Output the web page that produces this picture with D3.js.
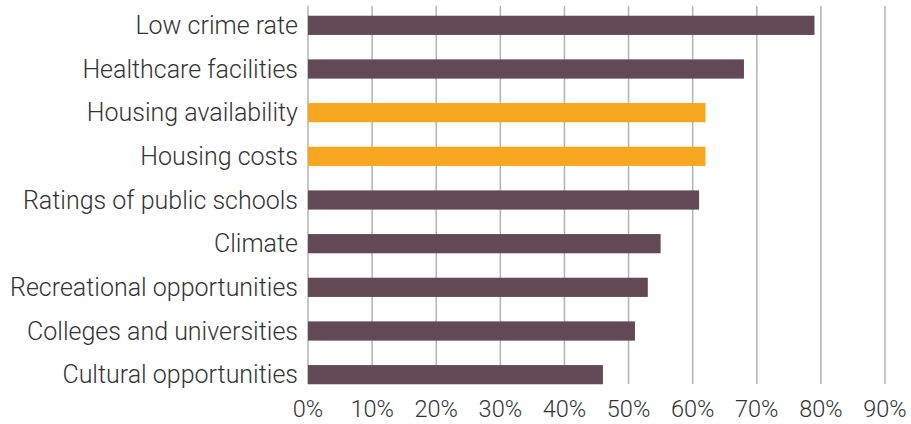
<!DOCTYPE html>
<html><head><meta charset="utf-8">
<script src="https://cdn.jsdelivr.net/npm/d3@7"></script>
<style>
html,body{margin:0;padding:0;background:#fff;}
svg text{font-family:Roboto, "Open Sans", sans-serif;fill:#333;font-weight:300;}
</style></head>
<body><svg id="c" width="911" height="424"></svg>
<script>
const categories = ["Low crime rate","Healthcare facilities","Housing availability","Housing costs","Ratings of public schools","Climate","Recreational opportunities","Colleges and universities","Cultural opportunities"];
const values = [79,68,62,62,61,55,53,51,46];
const highlighted = ["Housing availability","Housing costs"];
const ticks = [0,10,20,30,40,50,60,70,80,90];

const svg = d3.select("#c");
const x = d3.scaleLinear().domain([0,90]).range([308,885]);
const y = d3.scaleBand().domain(categories).range([3.5,396.5]).paddingInner(0.56).paddingOuter(0.28);

const gTop = 6, gBot = 384;
svg.append("g").selectAll("line").data(ticks).join("line")
  .attr("x1",d=>x(d)).attr("x2",d=>x(d)).attr("y1",gTop).attr("y2",gBot)
  .attr("stroke","#b3b3b3").attr("stroke-width",1.5);

svg.append("g").selectAll("rect").data(categories).join("rect")
  .attr("x",x(0)).attr("y",d=>y(d)).attr("height",y.bandwidth())
  .attr("width",(d,i)=>x(values[i])-x(0))
  .attr("fill",d=>highlighted.includes(d)?"#F6A71F":"#634955");

svg.append("g").selectAll("text").data(categories).join("text")
  .attr("x",298).attr("y",d=>y(d)+y.bandwidth()/2).attr("dy","0.35em")
  .attr("text-anchor","end").attr("font-size",25).text(d=>d);

svg.append("g").selectAll("text").data(ticks).join("text")
  .attr("x",d=>x(d)).attr("y",417).attr("text-anchor","middle")
  .attr("font-size",23.5).text(d=>d+"%");
</script></body></html>
